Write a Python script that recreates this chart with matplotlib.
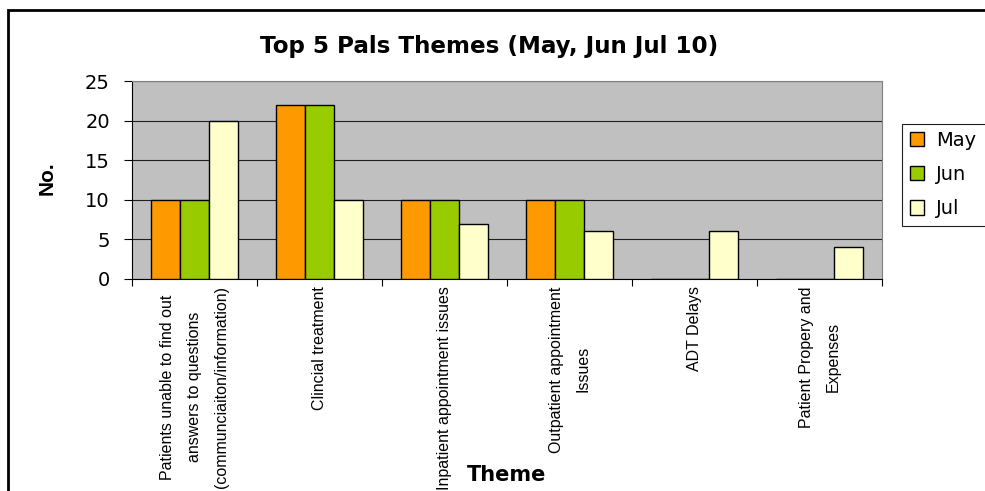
import matplotlib.pyplot as plt
import numpy as np
from matplotlib.patches import Rectangle

plt.rcParams['font.family'] = ['Liberation Sans', 'DejaVu Sans']
W, H = 985, 491

themes = ["Patients unable to find out\nanswers to questions\n(communciaiton/information)",
          "Clincial treatment",
          "Inpatient appointment issues",
          "Outpatient appointment\nIssues",
          "ADT Delays",
          "Patient Propery and\nExpenses"]
months = ["May", "Jun", "Jul"]
may = [10, 22, 10, 10, 0, 0]
jun = [10, 22, 10, 10, 0, 0]
jul = [20, 10, 7, 6, 6, 4]
colours = ["#FF9900", "#99CC00", "#FFFFCC"]

fig = plt.figure(figsize=(W / 100, H / 100), dpi=100)
ax = fig.add_axes([132/W, 1 - 279/H, 750/W, 198/H])
ax.set_facecolor("#C0C0C0")

x = np.arange(len(themes))
w = 0.232
handles = []
for i, (vals, c, lab) in enumerate(zip([may, jun, jul], colours, months)):
    b = ax.bar(x + (i - 1) * w, vals, w, color=c, edgecolor="black",
               linewidth=1.0, label=lab, zorder=3)
    handles.append(b)

ax.set_xlim(-0.5, len(themes) - 0.5)
ax.set_ylim(0, 25)
ax.set_yticks(range(0, 26, 5))
ax.yaxis.grid(True, color="#202020", linewidth=0.8, zorder=0)
ax.set_axisbelow(True)
ax.tick_params(axis="y", length=6, width=0.8, pad=10)
for t in ax.get_yticklabels():
    t.set_fontfamily("DejaVu Sans")
    t.set_fontsize(14)

# tick marks between categories, names under each group
ax.set_xticks(np.arange(len(themes) + 1) - 0.5)
ax.set_xticklabels([])
ax.tick_params(axis="x", length=5, width=0.8)
for xi, t in zip(x, themes):
    ax.text(xi, -0.9, t, rotation=90, ha="center", va="top", fontsize=11.5,
            multialignment="center", linespacing=1.98)

for s in ["top", "right"]:
    ax.spines[s].set_color("#808080")
ax.spines["left"].set_color("black")
ax.spines["bottom"].set_color("black")

fig.text(47/W, 1 - 178/H, "No.", rotation=90, ha="center", va="center",
         fontsize=15, fontweight="bold")
fig.text(507/W, 1 - 475/H, "Theme", ha="center", va="center",
         fontsize=15, fontweight="bold", family="DejaVu Sans")
fig.text(489/W, 1 - 46/H, "Top 5 Pals Themes (May, Jun Jul 10)",
         ha="center", va="center", fontsize=16.6, fontweight="bold",
         family="DejaVu Sans")

# legend with its frame running off the right edge
fig.patches.append(Rectangle((902/W, 1 - 226/H), 110/W, 102/H,
                             transform=fig.transFigure, facecolor="white",
                             edgecolor="#202020", linewidth=0.8, zorder=1))
leg = fig.legend(handles=handles, labels=months, loc="upper left",
                 bbox_to_anchor=(906/W, 1 - 127/H), frameon=False,
                 prop={"family": "DejaVu Sans", "size": 14},
                 handlelength=0.75, handleheight=0.75, handletextpad=0.6,
                 borderpad=0.2, labelspacing=0.78, borderaxespad=0)
leg.set_zorder(2)

# outer chart border
fig.patches.append(Rectangle((8/W, -0.05), 1.0, 1 - 10/H + 0.05,
                             transform=fig.transFigure, fill=False,
                             edgecolor="black", linewidth=2))

fig.savefig("out.png", dpi=100)
